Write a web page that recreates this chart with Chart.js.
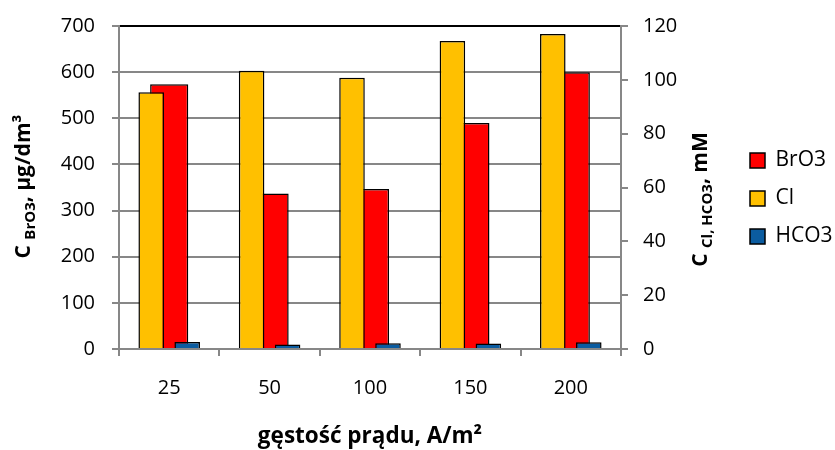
<!DOCTYPE html>
<html><head><meta charset="utf-8">
<script src="https://cdn.jsdelivr.net/npm/chart.js@4/dist/chart.umd.min.js"></script>
<style>html,body{margin:0;padding:0;background:#fff}#wrap{width:835px;height:450px;position:relative}</style>
</head><body><div id="wrap"><canvas id="c"></canvas></div>
<script>
const categories = ['25', '50', '100', '150', '200'];
const brO3Values = [574, 337, 347, 490, 600];
const clValues = [95.4, 103.4, 100.8, 114.4, 117.0];
const hco3Values = [2.6, 1.7, 2.1, 2.0, 2.5];
const leftTickValues = [0, 100, 200, 300, 400, 500, 600, 700];
const rightTickValues = [0, 20, 40, 60, 80, 100, 120];
const seriesNames = ['BrO3', 'Cl', 'HCO3'];

Chart.defaults.font.family = "'Open Sans', sans-serif";
Chart.defaults.color = '#000';

const GRID = '#878787';

const legendShift = {
  id: 'legendShift',
  afterLayout(chart) {
    const l = chart.legend;
    if (l) { l.top += 11; l.bottom += 11; }
  }
};

function drawRuns(ctx, runs) {
  let total = 0;
  runs.forEach(r => { ctx.font = 'bold ' + r.size + "px 'Open Sans', sans-serif"; r.w = ctx.measureText(r.text).width; total += r.w; });
  let x = -total / 2;
  ctx.textBaseline = 'alphabetic';
  ctx.textAlign = 'left';
  runs.forEach(r => {
    ctx.font = 'bold ' + r.size + "px 'Open Sans', sans-serif";
    ctx.fillText(r.text, x, r.dy || 0);
    x += r.w;
  });
}

const axisTitles = {
  id: 'axisTitles',
  afterDraw(chart) {
    const {ctx, chartArea, scales} = chart;
    ctx.save();
    ctx.fillStyle = '#000';
    const cy = (chartArea.top + chartArea.bottom) / 2;
    ctx.save();
    ctx.translate(scales.y.left + 30, cy - 1);
    ctx.rotate(-Math.PI / 2);
    drawRuns(ctx, [
      {text: 'C ', size: 21},
      {text: 'BrO3', size: 15, dy: 5},
      {text: ', \u00B5g/dm\u00B3', size: 21}
    ]);
    ctx.restore();
    ctx.save();
    ctx.translate(scales.y2.left + 86, cy + 12);
    ctx.rotate(-Math.PI / 2);
    drawRuns(ctx, [
      {text: 'C ', size: 21},
      {text: 'Cl, HCO3', size: 15, dy: 5},
      {text: ', mM', size: 21}
    ]);
    ctx.restore();
    ctx.save();
    ctx.translate((chartArea.left + chartArea.right) / 2, scales.x.bottom - 7);
    drawRuns(ctx, [{text: 'g\u0119sto\u015B\u0107 pr\u0105du, A/m\u00B2', size: 22.5}]);
    ctx.restore();
    ctx.restore();
  }
};

new Chart(document.getElementById('c'), {
  type: 'bar',
  data: {
    labels: categories,
    datasets: [
      {
        label: seriesNames[0], data: brO3Values, yAxisID: 'y',
        backgroundColor: '#FF0000', borderColor: '#000', borderWidth: 1.5,
        grouped: false, categoryPercentage: 1, barPercentage: 0.38, order: 2
      },
      {
        label: seriesNames[1], data: clValues, yAxisID: 'y2',
        backgroundColor: '#FFC000', borderColor: '#000', borderWidth: 1.5,
        categoryPercentage: 0.717, barPercentage: 0.71, order: 1
      },
      {
        label: seriesNames[2], data: hco3Values, yAxisID: 'y2',
        backgroundColor: '#0B5CA0', borderColor: '#000', borderWidth: 1.5,
        categoryPercentage: 0.717, barPercentage: 0.71, order: 1
      }
    ]
  },
  options: {
    responsive: true, maintainAspectRatio: false, animation: false, devicePixelRatio: 1,
    layout: {padding: {top: 26, left: 0, right: 0, bottom: 0}},
    plugins: {
      legend: {
        position: 'right', fullSize: false, maxWidth: 102,
        labels: {
          boxWidth: 15, boxHeight: 15, padding: 17, color: '#000',
          font: {size: 21},
          sort: (a, b) => a.datasetIndex - b.datasetIndex
        }
      },
      tooltip: {enabled: false}
    },
    scales: {
      x: {
        grid: {display: true, drawOnChartArea: false, drawTicks: true, tickLength: 7, color: GRID, lineWidth: 2, offset: true},
        border: {color: GRID, width: 2},
        ticks: {font: {size: 20}, color: '#000', padding: 20},
        afterFit(s) { s.height = 101; }
      },
      y: {
        position: 'left', min: 0, max: 700,
        afterBuildTicks(s) { s.ticks = leftTickValues.map(v => ({value: v})); },
        grid: {
          color: ctx => (ctx.tick && ctx.tick.value === 700) ? '#000' : GRID,
          tickColor: GRID, lineWidth: 2, tickLength: 7
        },
        border: {color: GRID, width: 2},
        ticks: {font: {size: 20}, color: '#000', padding: 17},
        afterFit(s) { s.width = 119; s.paddingTop = 0; s.paddingBottom = 0; }
      },
      y2: {
        position: 'right', min: 0, max: 120,
        afterBuildTicks(s) { s.ticks = rightTickValues.map(v => ({value: v})); },
        grid: {drawOnChartArea: false, color: GRID, lineWidth: 2, tickLength: 7},
        border: {color: GRID, width: 2},
        ticks: {font: {size: 20}, color: '#000', padding: 15},
        afterFit(s) { s.width = 112; s.paddingTop = 0; s.paddingBottom = 0; }
      }
    }
  },
  plugins: [legendShift, axisTitles]
});
</script>
</body></html>
